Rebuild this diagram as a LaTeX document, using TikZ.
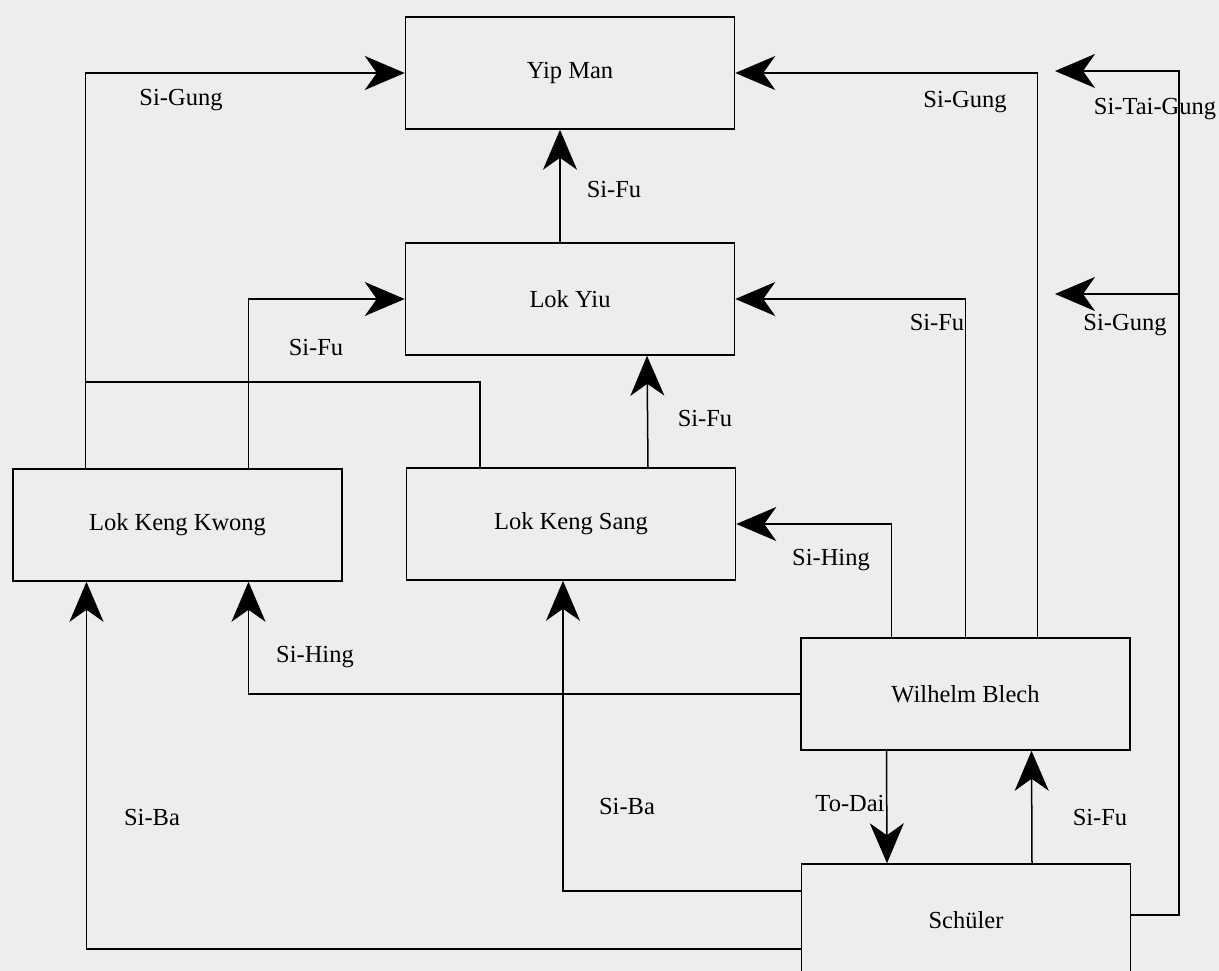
\documentclass[tikz,border=0pt]{standalone}
\usepackage{fontspec}
\setmainfont{Liberation Serif}
\usetikzlibrary{arrows.meta,positioning,calc}
\definecolor{paper}{RGB}{237,237,237}

\begin{document}
\begin{tikzpicture}[x=1pt, y=-1pt, line width=1.5pt, >={Stealth[length=40pt,width=34pt,inset=12pt]}, font=\fontsize{24.5}{28}\selectfont,
	  box/.style={draw, minimum width=329pt, minimum height=112pt, inner sep=0pt},
	  lbl/.style={inner sep=0pt}]
	  \clip (0,0) rectangle (1219,971);
	  \fill[paper] (0,0) rectangle (1219,971);
	  \node[box] (yip) at (570,73) {Yip Man};
	  \node[box] (lokyiu) at (570,299) {Lok Yiu};
	  \node[box] (lkk) at (177.5,525) {Lok Keng Kwong};
	  \node[box] (lks) at (571,524) {Lok Keng Sang};
	  \node[box] (wb) at (965.5,694) {Wilhelm Blech};
	  \node[box] (sch) at (966,920) {Schüler};
	  \coordinate (jn) at (85,382);
	  \coordinate (rt) at (1179,71);
	  \coordinate (tai) at (1055,71);
	  \coordinate (gung) at (1055,294);
	  \draw[->] ([xshift=-10pt]lokyiu.north) -- ([xshift=-10pt]yip.south);
	  \draw[->] ([xshift=-92pt]lkk.north) |- (yip.west);
	  \draw ([xshift=-91pt]lks.north) |- (jn);
	  \draw[->] ([xshift=71pt]lkk.north) |- (lokyiu.west);
	  \draw[->] ([xshift=77pt]lks.north) -- ([xshift=77pt]lokyiu.south);
	  \draw[->] ([xshift=-74pt]wb.north) |- (lks.east);
	  \draw[->] (wb.north) |- (lokyiu.east);
	  \draw[->] ([xshift=72pt]wb.north) |- (yip.east);
	  \draw[->] (wb.west) -| ([xshift=71pt]lkk.south);
	  \draw[->] ([xshift=-79pt]wb.south) -- ([xshift=-79pt]sch.north);
	  \draw[->] ([xshift=66pt]sch.north) -- ([xshift=66pt]wb.south);
	  \draw[->] ([yshift=29pt]sch.west) -| ([xshift=-8pt]lks.south);
	  \draw[->] ([yshift=-29pt]sch.west) -| ([xshift=-91pt]lkk.south);
	  \draw[->] ([yshift=5pt]sch.east) -| (rt) -- (tai);
	  \draw[->] (rt |- gung) -- (gung);
	  \node[lbl] (fu1) at (614,190) {Si-Fu};
	  \node[lbl] (gung1) at (181,100) {Si-Gung};
	  \node[lbl] (gung2) at (965,102) {Si-Gung};
	  \node[lbl] (fu2) at (316,348) {Si-Fu};
	  \node[lbl] (fu3) at (705,419) {Si-Fu};
	  \node[lbl] (fu4) at (937,323) {Si-Fu};
	  \node[lbl] (hing1) at (831,560) {Si-Hing};
	  \node[lbl] (hing2) at (315,657) {Si-Hing};
	  \node[lbl] (dai) at (850,804) {To-Dai};
	  \node[lbl] (fu5) at (1100,818) {Si-Fu};
	  \node[lbl] (ba1) at (627,807) {Si-Ba};
	  \node[lbl] (ba2) at (152,818) {Si-Ba};
	  \node[lbl] (taigung) at (1155,109) {Si-Tai-Gung};
	  \node[lbl] (gung3) at (1125,325) {Si-Gung};
	\end{tikzpicture}
\end{document}
